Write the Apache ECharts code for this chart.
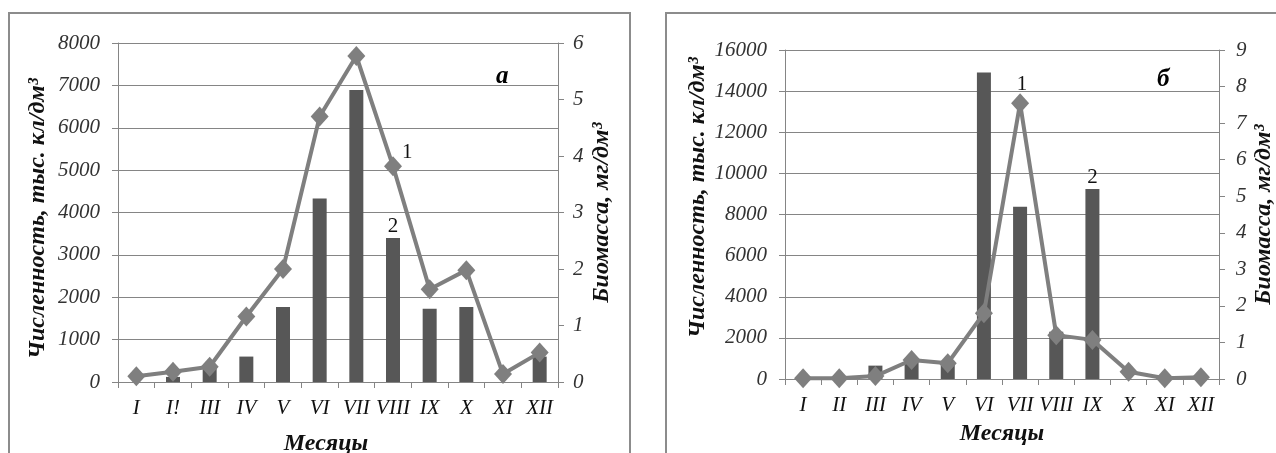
<!DOCTYPE html>
<html><head><meta charset="utf-8">
<script src="https://cdn.jsdelivr.net/npm/echarts@6/dist/echarts.min.js"></script>
<style>html,body{margin:0;padding:0;background:#fff}#c{width:1276px;height:453px}</style>
</head><body><div id="c"></div>
<script>
const monthsA = ['I','I!','III','IV','V','VI','VII','VIII','IX','X','XI','XII'];
const monthsB = ['I','II','III','IV','V','VI','VII','VIII','IX','X','XI','XII'];
const countA = [0, 120, 380, 600, 1770, 4330, 6890, 3400, 1730, 1770, 0, 600];
const bioA = [0.1, 0.18, 0.27, 1.16, 2.0, 4.7, 5.77, 3.82, 1.64, 1.98, 0.14, 0.52];
const countB = [0, 0, 650, 900, 800, 14900, 8380, 2300, 9240, 0, 0, 0];
const bioB = [0.02, 0.02, 0.08, 0.52, 0.43, 1.8, 7.54, 1.2, 1.07, 0.2, 0.02, 0.05];
const leftTicksA = [0, 8000, 1000];
const rightTicksA = [0, 6, 1];
const leftTicksB = [0, 16000, 2000];
const rightTicksB = [0, 9, 1];
const leftTitle = 'Численность, тыс. кл/дм³';
const rightTitle = 'Биомасса, мг/дм³';
const xTitle = 'Месяцы';

const serif = '"Liberation Serif","Times New Roman",serif';
const gridCol = '#858585';
const tickStyle = {fontFamily: serif, fontStyle: 'italic', fontSize: 21, color: '#333'};
const xTickStyle = {fontFamily: serif, fontStyle: 'italic', fontSize: 21, color: '#111'};
const titleStyle = {fontFamily: serif, fontStyle: 'italic', fontWeight: 'bold', fontSize: 24, color: '#111'};

function yAx(gi, pos, ticks, name, gap, margin, grid, pad) {
  return {
    type: 'value', gridIndex: gi, position: pos,
    min: ticks[0], max: ticks[1], interval: ticks[2],
    name: name, nameLocation: 'middle', nameGap: gap,
    nameRotate: 90, nameTextStyle: Object.assign({padding: pad}, titleStyle),
    axisLine: {show: true, lineStyle: {color: gridCol, width: 1}},
    axisTick: {show: true, length: 6, lineStyle: {color: gridCol}},
    axisLabel: Object.assign({margin: margin, formatter: v => String(v)}, tickStyle),
    splitLine: {show: grid, lineStyle: {color: gridCol, width: 1}}
  };
}
function xAx(gi, cats, gap, margin, pad) {
  return {
    type: 'category', gridIndex: gi, data: cats, boundaryGap: true,
    name: xTitle, nameLocation: 'middle', nameGap: gap, nameTextStyle: Object.assign({padding: pad}, titleStyle),
    axisLine: {show: true, lineStyle: {color: gridCol, width: 1}},
    axisTick: {show: true, length: 6, alignWithLabel: false, lineStyle: {color: gridCol}},
    axisLabel: Object.assign({margin: margin, interval: 0}, xTickStyle),
    splitLine: {show: false}
  };
}
const numLabel = {fontFamily: serif, fontSize: 21, color: '#111'};
const barCol = '#575757', lineCol = '#7f7f7f';

function barData(vals, idx) {
  return vals.map((v, i) => i === idx ? {value: v, label: Object.assign({show: true, position: 'top', formatter: '2', distance: 1}, numLabel)} : v);
}
function lineData(vals, idx, pos, off) {
  return vals.map((v, i) => i === idx ? {value: v, label: Object.assign({show: true, position: pos, offset: off, formatter: '1', distance: 4}, numLabel)} : v);
}

const option = {
  animation: false,
  backgroundColor: '#fff',
  graphic: [
    {type: 'rect', shape: {x: 9, y: 13, width: 621, height: 460}, style: {fill: 'none', stroke: '#8c8c8c', lineWidth: 2}, silent: true, z: -1},
    {type: 'rect', shape: {x: 666, y: 13, width: 640, height: 460}, style: {fill: 'none', stroke: '#8c8c8c', lineWidth: 2}, silent: true, z: -1}
  ],
  title: [
    {text: 'a', left: 491, top: 59, textStyle: {fontFamily: serif, fontStyle: 'italic', fontWeight: 'bold', fontSize: 25, color: '#000'}},
    {text: 'б', left: 1152, top: 62, textStyle: {fontFamily: serif, fontStyle: 'italic', fontWeight: 'bold', fontSize: 25, color: '#000'}}
  ],
  grid: [
    {left: 118, top: 43, width: 440, height: 339, outerBoundsMode: 'none', containLabel: false},
    {left: 785, top: 50, width: 434, height: 329, outerBoundsMode: 'none', containLabel: false}
  ],
  xAxis: [xAx(0, monthsA, 50, 16, [0, 24, 0, 0]), xAx(1, monthsB, 43, 16, [0, 0, 0, 0])],
  yAxis: [
    yAx(0, 'left', leftTicksA, leftTitle, 68, 18, true, [0, 12, 0, 0]),
    yAx(0, 'right', rightTicksA, rightTitle, 32, 15, false, [0, 0, 0, 0]),
    yAx(1, 'left', leftTicksB, leftTitle, 75, 18, true, [0, 0, 0, 34]),
    yAx(1, 'right', rightTicksB, rightTitle, 33, 17, false, [0, 0, 0, 0])
  ],
  series: [
    {type: 'bar', xAxisIndex: 0, yAxisIndex: 0, data: barData(countA, 7), barWidth: 14, itemStyle: {color: barCol}, z: 2},
    {type: 'line', xAxisIndex: 0, yAxisIndex: 1, data: lineData(bioA, 7, 'right', [-4, -14]), symbol: 'diamond', symbolSize: [18, 20],
      lineStyle: {color: lineCol, width: 4}, itemStyle: {color: lineCol}, z: 3},
    {type: 'bar', xAxisIndex: 1, yAxisIndex: 2, data: barData(countB, 8), barWidth: 14, itemStyle: {color: barCol}, z: 2},
    {type: 'line', xAxisIndex: 1, yAxisIndex: 3, data: lineData(bioB, 6, 'top', [2, 6]), symbol: 'diamond', symbolSize: [18, 20],
      lineStyle: {color: lineCol, width: 4}, itemStyle: {color: lineCol}, z: 3}
  ]
};
const chart = echarts.init(document.getElementById('c'), null, {renderer: 'canvas'});
chart.setOption(option);
</script></body></html>
